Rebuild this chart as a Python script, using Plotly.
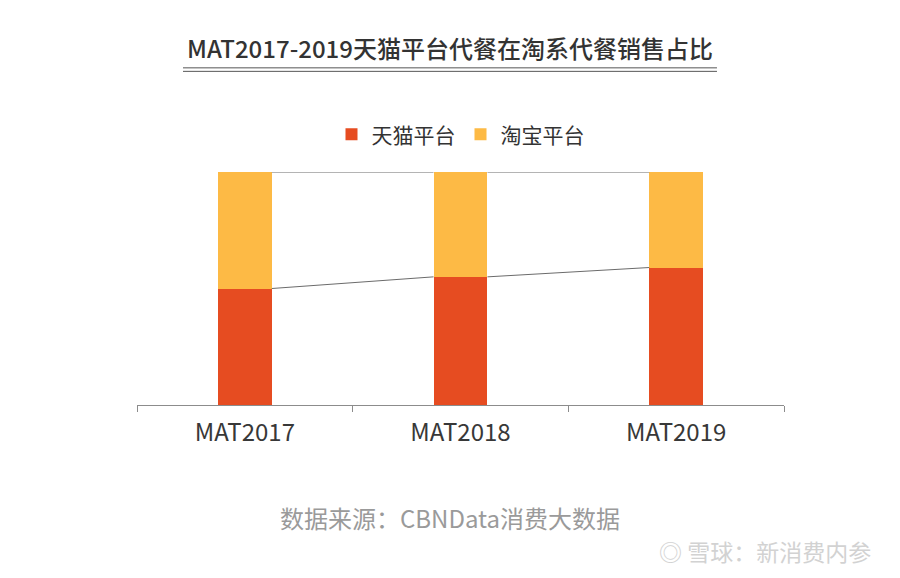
import plotly.graph_objects as go

# data (share of sales, %)
years = ["MAT2017", "MAT2018", "MAT2019"]
tmall = [50, 55, 59]
taobao = [50, 45, 41]

RED = "#E64C21"
YELLOW = "#FDBA45"
FONT = "Noto Sans CJK SC"
bar_w = 0.25

fig = go.Figure()
fig.add_trace(go.Bar(x=years, y=tmall, name="天猫平台", marker=dict(color=RED, line_width=0),
                     width=bar_w))
fig.add_trace(go.Bar(x=years, y=taobao, name="淘宝平台", marker=dict(color=YELLOW, line_width=0),
                     width=bar_w))

# series lines joining the bar segments (Excel style)
shapes = []
totals = [a + b for a, b in zip(tmall, taobao)]
for i in range(len(years) - 1):
    for vals in (tmall, totals):
        shapes.append(dict(type="line", xref="x", yref="y",
                           x0=i + bar_w / 2, x1=i + 1 - bar_w / 2,
                           y0=vals[i], y1=vals[i + 1],
                           line=dict(color="#6b6b6b", width=1)))

# double underline under the title
for yy in (1.447, 1.432):
    shapes.append(dict(type="line", xref="paper", yref="paper",
                       x0=0.0711, x1=0.8964, y0=yy, y1=yy,
                       line=dict(color="#555555", width=1)))

annotations = [
    dict(text="数据来源：CBNData消费大数据", xref="paper", yref="paper",
         x=0.4838, y=-0.481, showarrow=False, xanchor="center", yanchor="middle",
         font=dict(family=FONT, size=24, color="#9a9a9a")),
    dict(text="◎ 雪球：新消费内参", xref="paper", yref="paper",
         x=1.138, y=-0.627, showarrow=False, xanchor="right", yanchor="middle",
         font=dict(family=FONT, size=23, color="#d2d2d2")),
]

# the page shifts the figure 8px right/down, so margins compensate
fig.update_layout(
    width=900, height=578,
    margin=dict(l=129, r=124, t=164, b=181),
    paper_bgcolor="white", plot_bgcolor="white",
    barmode="stack",
    bargap=0.75,
    showlegend=True,
    title=dict(text="MAT2017-2019天猫平台代餐在淘系代餐销售占比",
               x=(450 - 8) / 900, xanchor="center", y=1 - 42 / 578, yanchor="middle",
               font=dict(family=FONT, size=24, color="#333333", weight=500)),
    legend=dict(orientation="h", x=0.5, xanchor="center", y=1.16, yanchor="middle",
                font=dict(family=FONT, size=21, color="#333333"),
                traceorder="normal", itemwidth=30, bgcolor="rgba(0,0,0,0)"),
    xaxis=dict(type="category", showline=True, linecolor="#8c8c8c", linewidth=1,
               ticks="outside", tickson="boundaries", ticklen=6, tickcolor="#8c8c8c",
               ticklabelstandoff=6,
               tickfont=dict(family=FONT, size=24, color="#383838"),
               showgrid=False, zeroline=False, fixedrange=True),
    yaxis=dict(range=[0, 100], visible=False, showgrid=False, zeroline=False,
               fixedrange=True),
    shapes=shapes,
    annotations=annotations,
    font=dict(family=FONT),
)

fig.write_html("out.html")
